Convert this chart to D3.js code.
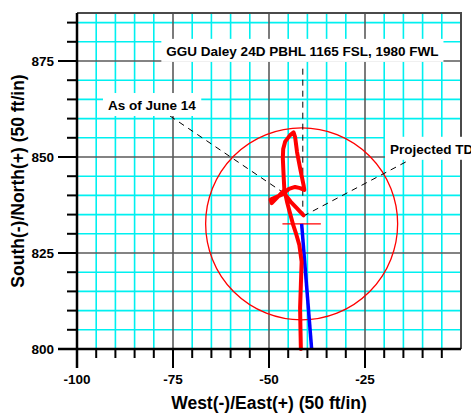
<!DOCTYPE html>
<html>
<head>
<meta charset="utf-8">
<script src="https://cdn.jsdelivr.net/npm/d3@7"></script>
<style>
  body { margin: 0; background: #fff; }
  text { font-family: "Liberation Sans", Arial, sans-serif; font-weight: bold; }
</style>
</head>
<body>
<div id="chart"></div>
<script>
// survey (actual) well path, plan view
const surveyEW = [-41.7, -41.8, -41.9, -41.7, -41.5, -42.1, -43.0, -43.7, -44.4, -45.3, -45.8,
  -49.6, -49.3, -46.0, -46.2, -46.4, -46.3, -45.8, -44.5, -43.6, -43.2, -42.7, -41.9, -41.0,
  -40.8, -41.9, -43.2, -44.8, -46.1, -44.4, -42.7, -41.0];
const surveyNS = [800.0, 804.9, 810.7, 816.7, 822.7, 827.1, 830.2, 832.3, 834.9, 838.3, 840.6,
  838.9, 838.0, 841.4, 845.3, 849.7, 852.1, 854.0, 855.7, 856.4, 855.2, 851.3, 847.1, 842.7,
  841.4, 841.9, 842.2, 841.7, 840.6, 838.4, 836.6, 834.8];

// planned path
const planEW = [-41.5, -38.9];
const planNS = [832.6, 800.0];

// target
const targetEW = -41.5;
const targetNS = 832.6;
const targetRadius = 25;

const xTickLabels = [-100, -75, -50, -25];
const yTickLabels = [800, 825, 850, 875];

const noteText = ["GGU Daley 24D PBHL 1165 FSL, 1980 FWL", "As of June 14", "Projected TD"];
const notePointEW = [-41.2, -46.1, -40.9];
const notePointNS = [834.7, 840.6, 834.7];

const W = 471, H = 415;
const x = d3.scaleLinear().domain([-100, 0]).range([77, 461]);
const y = d3.scaleLinear().domain([800, 887.5]).range([349, 13]);

const svg = d3.select("#chart").append("svg")
  .attr("width", W).attr("height", H)
  .style("background", "#fff");

// grid
const grid = svg.append("g");
const isMajor = (v) => v % 25 === 0;
const xGrid = d3.range(-95, 0, 5);
const yGrid = d3.range(805, 887, 5);

grid.selectAll(".vminor").data(xGrid.filter((d) => !isMajor(d))).join("line")
  .attr("x1", (d) => x(d)).attr("x2", (d) => x(d))
  .attr("y1", y(887.5)).attr("y2", y(800))
  .attr("stroke", "#00f0f0").attr("stroke-width", 1.6);
grid.selectAll(".hminor").data(yGrid.filter((d) => !isMajor(d))).join("line")
  .attr("y1", (d) => y(d)).attr("y2", (d) => y(d))
  .attr("x1", x(-100)).attr("x2", x(0))
  .attr("stroke", "#00f0f0").attr("stroke-width", 1.6);
grid.selectAll(".vmajor").data(xGrid.filter(isMajor)).join("line")
  .attr("x1", (d) => x(d)).attr("x2", (d) => x(d))
  .attr("y1", y(887.5)).attr("y2", y(800))
  .attr("stroke", "#5a5a5a").attr("stroke-width", 1.6);
grid.selectAll(".hmajor").data(yGrid.filter(isMajor)).join("line")
  .attr("y1", (d) => y(d)).attr("y2", (d) => y(d))
  .attr("x1", x(-100)).attr("x2", x(0))
  .attr("stroke", "#5a5a5a").attr("stroke-width", 1.6);

// frame top / right
svg.append("path")
  .attr("d", `M${x(-100)},${y(887.5)}H${x(0)}V${y(800)}`)
  .attr("fill", "none").attr("stroke", "#4a4a4a").attr("stroke-width", 2);

// target circle and marker
svg.append("circle")
  .attr("cx", x(targetEW)).attr("cy", y(targetNS))
  .attr("r", x(targetRadius) - x(0))
  .attr("fill", "none").attr("stroke", "#ff0000").attr("stroke-width", 1.3);
svg.append("line")
  .attr("x1", x(targetEW - 5)).attr("x2", x(targetEW + 5))
  .attr("y1", y(targetNS)).attr("y2", y(targetNS))
  .attr("stroke", "#ff0000").attr("stroke-width", 1.3);

// leader lines
const noteBox = [
  { cx: -41.3, cy: 877.6, anchor: "middle", from: [-41.2, 873.0] },
  { cx: -80.5, cy: 863.5, anchor: "middle", from: [-75.8, 860.7] },
  { cx: -18.5, cy: 852.1, anchor: "start", from: [-14.4, 848.7] },
];
noteText.forEach((t, i) => {
  svg.append("line")
    .attr("x1", x(noteBox[i].from[0])).attr("y1", y(noteBox[i].from[1]))
    .attr("x2", x(notePointEW[i])).attr("y2", y(notePointNS[i]))
    .attr("stroke", "#000").attr("stroke-width", 1)
    .attr("stroke-dasharray", "6,5");
});

// planned (blue) and actual (red) paths
const line = d3.line().x((d) => x(d[0])).y((d) => y(d[1]));
svg.append("path")
  .attr("d", line(d3.zip(planEW, planNS)))
  .attr("fill", "none").attr("stroke", "#0000ff").attr("stroke-width", 3.5);
svg.append("path")
  .attr("d", line(d3.zip(surveyEW, surveyNS)))
  .attr("fill", "none").attr("stroke", "#ff0000").attr("stroke-width", 4)
  .attr("stroke-linejoin", "round").attr("stroke-linecap", "round");

// note labels with white boxes
noteText.forEach((t, i) => {
  const g = svg.append("g");
  const txt = g.append("text")
    .attr("x", x(noteBox[i].cx)).attr("y", y(noteBox[i].cy))
    .attr("dy", "0.36em")
    .attr("text-anchor", noteBox[i].anchor)
    .attr("font-size", 13.5)
    .text(t);
  const bb = txt.node().getBBox();
  g.insert("rect", "text")
    .attr("x", bb.x - 5).attr("y", bb.y - 5)
    .attr("width", bb.width + 10).attr("height", bb.height + 8)
    .attr("fill", "#fff");
});

// axes
const axes = svg.append("g").attr("stroke", "#000");
axes.append("line")
  .attr("x1", x(-100)).attr("x2", x(-100)).attr("y1", y(887.5)).attr("y2", y(800) + 19)
  .attr("stroke-width", 2.5);
axes.append("line")
  .attr("x1", x(-100) - 19).attr("x2", x(0)).attr("y1", y(800)).attr("y2", y(800))
  .attr("stroke-width", 2.5);

axes.selectAll(".xt").data(d3.range(-95, 0, 5)).join("line")
  .attr("x1", (d) => x(d)).attr("x2", (d) => x(d))
  .attr("y1", y(800)).attr("y2", (d) => y(800) + (isMajor(d) ? 19 : 9))
  .attr("stroke-width", 2);
axes.selectAll(".yt").data(d3.range(805, 887, 5)).join("line")
  .attr("y1", (d) => y(d)).attr("y2", (d) => y(d))
  .attr("x1", x(-100)).attr("x2", (d) => x(-100) - (isMajor(d) ? 19 : 10))
  .attr("stroke-width", 2);

svg.selectAll(".xl").data(xTickLabels).join("text")
  .attr("x", (d) => x(d)).attr("y", y(800) + 30)
  .attr("dy", "0.36em")
  .attr("text-anchor", "middle").attr("font-size", 13.5)
  .text((d) => d);
svg.selectAll(".yl").data(yTickLabels).join("text")
  .attr("x", x(-100) - 23).attr("y", (d) => y(d))
  .attr("dy", "0.36em")
  .attr("text-anchor", "end").attr("font-size", 13.5)
  .text((d) => d);

svg.append("text")
  .attr("x", (x(-100) + x(0)) / 2).attr("y", 403)
  .attr("dy", "0.36em")
  .attr("text-anchor", "middle").attr("font-size", 17.5)
  .text("West(-)/East(+) (50 ft/in)");
svg.append("text")
  .attr("transform", `translate(18,${(y(800) + y(887.5)) / 2}) rotate(-90)`)
  .attr("dy", "0.36em")
  .attr("text-anchor", "middle").attr("font-size", 17.5)
  .text("South(-)/North(+) (50 ft/in)");
</script>
</body>
</html>
